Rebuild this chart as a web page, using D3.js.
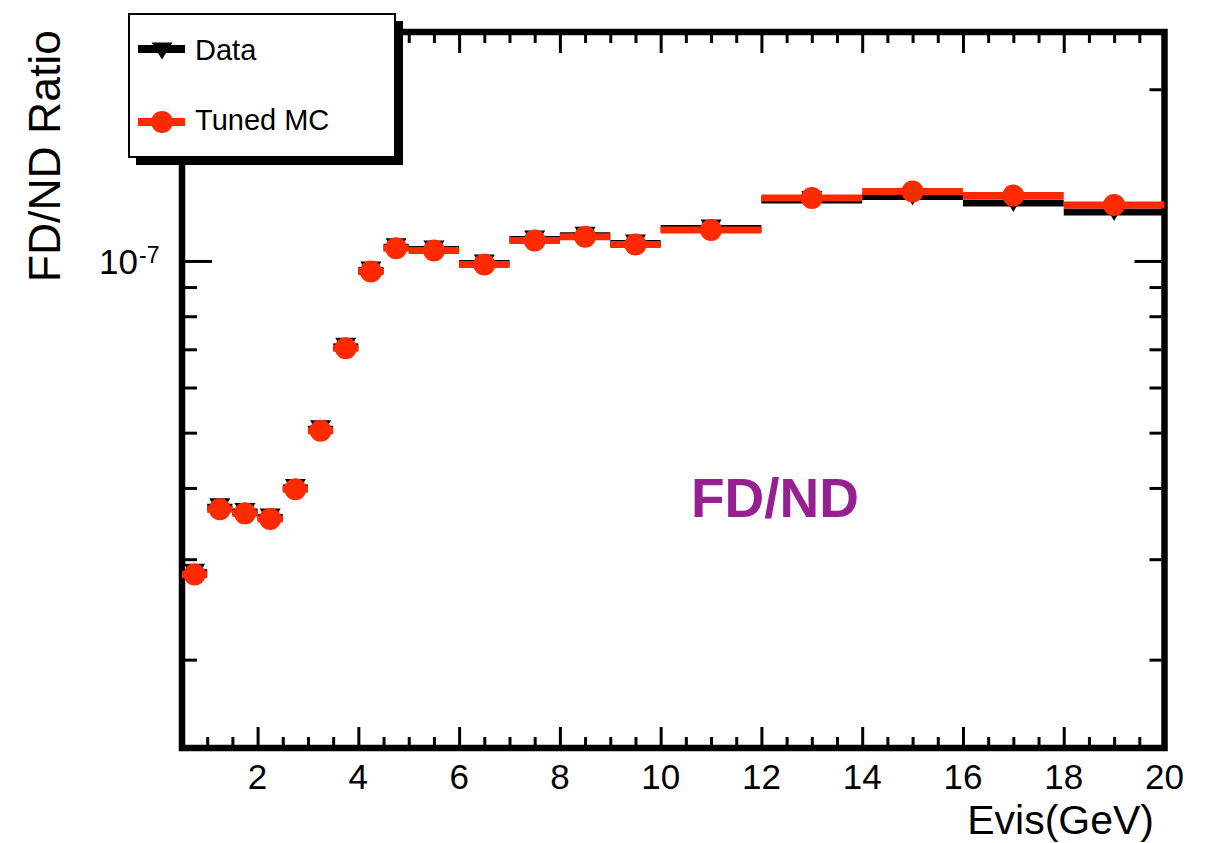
<!DOCTYPE html>
<html>
<head>
<meta charset="utf-8">
<script src="https://cdn.jsdelivr.net/npm/d3@7"></script>
<style>
  html, body { margin: 0; padding: 0; background: #fff; }
  svg { display: block; }
  text { font-family: "Liberation Sans", Arial, Helvetica, sans-serif; }
</style>
</head>
<body>
<svg id="chart" width="1212" height="843"></svg>
<script>
// ---- data ----
const binLow  = [0.5, 1, 1.5, 2, 2.5, 3, 3.5, 4, 4.5, 5, 6, 7, 8, 9, 10, 12, 14, 16, 18];
const binHigh = [1, 1.5, 2, 2.5, 3, 3.5, 4, 4.5, 5, 6, 7, 8, 9, 10, 12, 14, 16, 18, 20];
const mcValues = [2.82e-8, 3.67e-8, 3.61e-8, 3.53e-8, 3.98e-8, 5.04e-8, 7.03e-8, 9.58e-8, 1.053e-7,
                  1.043e-7, 9.86e-8, 1.086e-7, 1.103e-7, 1.069e-7, 1.133e-7, 1.289e-7, 1.324e-7, 1.302e-7, 1.254e-7];
const dataValues = [2.84e-8, 3.70e-8, 3.63e-8, 3.55e-8, 4.00e-8, 5.07e-8, 7.07e-8, 9.62e-8, 1.057e-7,
                    1.047e-7, 9.90e-8, 1.090e-7, 1.107e-7, 1.073e-7, 1.140e-7, 1.279e-7, 1.297e-7, 1.264e-7, 1.219e-7];
const xTickValues = [2, 4, 6, 8, 10, 12, 14, 16, 18, 20];
const seriesNames = ["Data", "Tuned MC"];
const xTitle = "Evis(GeV)";
const yTitle = "FD/ND Ratio";
const annotation = "FD/ND";

// ---- layout ----
const L = 182, R = 1164.5, T = 32, B = 748;
const red = "#ff2a00", purple = "#962090";
const svg = d3.select("#chart");

const x = d3.scaleLinear().domain([0.5, 20]).range([L, R]);
const y = d3.scaleLog().domain([1.4e-8, 2.52e-7]).range([B, T]);

// ---- ticks ----
const xMinor = d3.range(1, 20.01, 0.5).filter(v => xTickValues.indexOf(v) < 0);
const yMajor = [1e-7];
const yMinor = [2e-8, 3e-8, 4e-8, 5e-8, 6e-8, 7e-8, 8e-8, 9e-8, 2e-7];

function tickGroup(axisFn, scale, values, size, tx, ty) {
  svg.append("g").attr("transform", `translate(${tx},${ty})`)
    .call(axisFn(scale).tickValues(values).tickSize(size).tickFormat(""))
    .call(s => s.select(".domain").remove())
    .call(s => s.selectAll("line").attr("stroke", "#000").attr("stroke-width", 3));
}
tickGroup(d3.axisBottom, x, xTickValues, -18, 0, B - 3);
tickGroup(d3.axisBottom, x, xMinor, -8, 0, B - 3);
tickGroup(d3.axisTop, x, xTickValues, -18, 0, T + 3);
tickGroup(d3.axisTop, x, xMinor, -8, 0, T + 3);
tickGroup(d3.axisLeft, y, yMajor, -27, L + 3, 0);
tickGroup(d3.axisLeft, y, yMinor, -12, L + 3, 0);
tickGroup(d3.axisRight, y, yMajor, -27, R - 3, 0);
tickGroup(d3.axisRight, y, yMinor, -12, R - 3, 0);

// frame
svg.append("rect").attr("x", L).attr("y", T).attr("width", R - L).attr("height", B - T)
  .attr("fill", "none").attr("stroke", "#000").attr("stroke-width", 6.5);

// x tick labels
svg.append("g").selectAll("text").data(xTickValues).join("text")
  .attr("x", d => x(d)).attr("y", 789)
  .attr("text-anchor", "middle").attr("font-size", 35).attr("fill", "#000")
  .text(d => d);

// y tick label 10^-7
svg.append("text").attr("x", 138).attr("y", y(1e-7) + 13)
  .attr("text-anchor", "end").attr("font-size", 35).attr("fill", "#000").text("10");
svg.append("text").attr("x", 139).attr("y", y(1e-7) + 2)
  .attr("font-size", 23).attr("fill", "#000").text("-7");

// axis titles
svg.append("text").attr("x", 1154).attr("y", 834).attr("text-anchor", "end")
  .attr("font-size", 41).attr("fill", "#000").text(xTitle);
svg.append("text").attr("transform", "translate(60,30) rotate(-90)")
  .attr("text-anchor", "end").attr("font-size", 44.5).attr("fill", "#000").text(yTitle);

// annotation
svg.append("text").attr("x", 691).attr("y", 517).attr("font-size", 55)
  .attr("font-weight", "bold").attr("fill", purple).text(annotation);

// ---- data series (black, drawn first) ----
const idx = d3.range(binLow.length);
const tri = (cx, cy, w, h) => `M${cx - w / 2},${cy - h / 2}L${cx + w / 2},${cy - h / 2}L${cx},${cy + h / 2}Z`;

svg.append("g").selectAll("line").data(idx).join("line")
  .attr("x1", i => x(binLow[i])).attr("x2", i => x(binHigh[i]))
  .attr("y1", i => y(dataValues[i])).attr("y2", i => y(dataValues[i]))
  .attr("stroke", "#000").attr("stroke-width", 7);
svg.append("g").selectAll("path").data(idx).join("path")
  .attr("d", i => tri(x((binLow[i] + binHigh[i]) / 2), y(dataValues[i]), 21, 18))
  .attr("fill", "#000");

// ---- MC series (red) ----
svg.append("g").selectAll("line").data(idx).join("line")
  .attr("x1", i => x(binLow[i])).attr("x2", i => x(binHigh[i]))
  .attr("y1", i => y(mcValues[i])).attr("y2", i => y(mcValues[i]))
  .attr("stroke", red).attr("stroke-width", 7);
svg.append("g").selectAll("circle").data(idx).join("circle")
  .attr("cx", i => x((binLow[i] + binHigh[i]) / 2)).attr("cy", i => y(mcValues[i]))
  .attr("r", 11).attr("fill", red);

// ---- legend ----
const lg = svg.append("g");
lg.append("rect").attr("x", 136).attr("y", 21).attr("width", 267).attr("height", 144).attr("fill", "#000");
lg.append("rect").attr("x", 129).attr("y", 14).attr("width", 266).attr("height", 143)
  .attr("fill", "#fff").attr("stroke", "#000").attr("stroke-width", 2);
lg.append("line").attr("x1", 138).attr("x2", 185).attr("y1", 49).attr("y2", 49)
  .attr("stroke", "#000").attr("stroke-width", 8);
lg.append("path").attr("d", tri(162, 51, 21, 17)).attr("fill", "#000");
lg.append("text").attr("x", 195).attr("y", 60).attr("font-size", 29).attr("fill", "#000").text(seriesNames[0]);
lg.append("line").attr("x1", 138).attr("x2", 185).attr("y1", 122).attr("y2", 122)
  .attr("stroke", red).attr("stroke-width", 8);
lg.append("circle").attr("cx", 162).attr("cy", 122).attr("r", 11).attr("fill", red);
lg.append("text").attr("x", 195).attr("y", 130).attr("font-size", 29).attr("fill", "#000").text(seriesNames[1]);
</script>
</body>
</html>
